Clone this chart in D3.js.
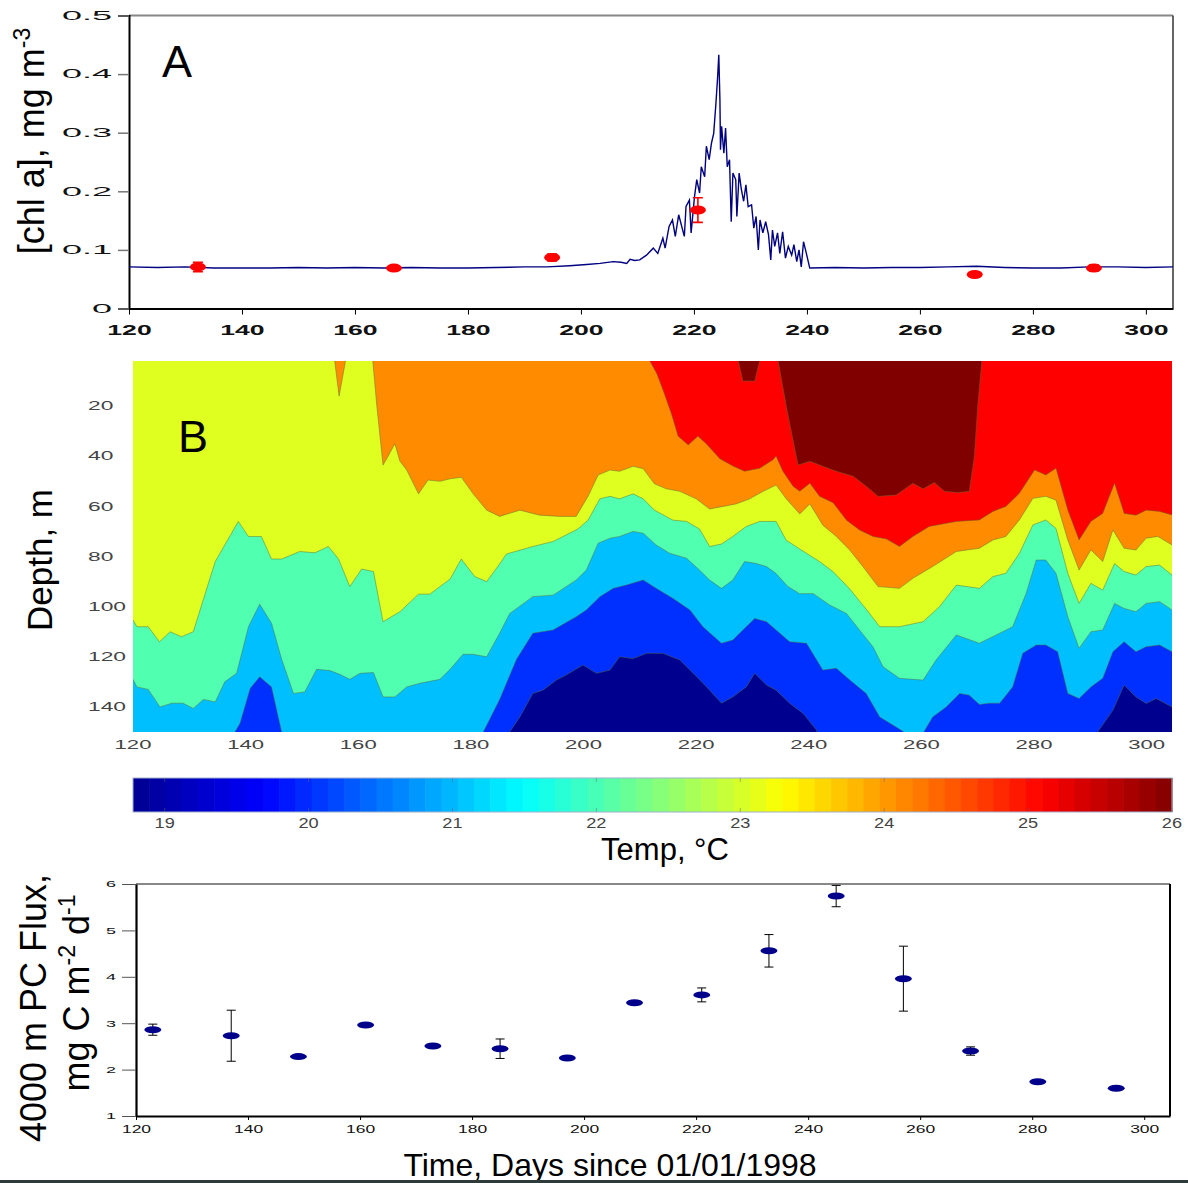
<!DOCTYPE html>
<html>
<head>
<meta charset="utf-8">
<script src="https://cdn.jsdelivr.net/npm/d3@7"></script>
<style>
  body { margin: 0; background: #fff; }
  svg { display: block; font-family: "Liberation Sans", Arial, sans-serif; }
</style>
</head>
<body>
<svg id="fig" width="1188" height="1183"></svg>
<script>
// ---- panel A: [chl a] time series (day, mg m-3) ----
const chlSeries = [
  [120,0.071],[125,0.070],[130,0.071],[135,0.069],[140,0.069],[145,0.069],[150,0.070],[155,0.069],
  [160,0.070],[165,0.069],[170,0.070],[175,0.069],[180,0.069],[185,0.070],[190,0.071],[194,0.071],
  [198,0.073],[201,0.075],[203.4,0.077],[205.7,0.080],[207.1,0.079],[208.1,0.077],[208.7,0.084],
  [209.5,0.082],[210.4,0.083],[211.6,0.091],[212.8,0.103],[213.6,0.094],[214.5,0.120],[214.9,0.103],
  [215.6,0.140],[216.2,0.151],[216.7,0.123],[217.3,0.160],[218.3,0.123],[218.6,0.174],[219.2,0.185],
  [219.5,0.129],[220.1,0.191],[220.5,0.220],[221.0,0.197],[221.3,0.242],[221.9,0.225],[222.2,0.277],
  [222.7,0.254],[223.1,0.282],[223.5,0.299],[223.9,0.351],[224.2,0.396],[224.4,0.433],[224.6,0.356],
  [224.7,0.271],[224.9,0.311],[225.3,0.265],[225.6,0.308],[225.9,0.242],[226.3,0.254],[226.6,0.148],
  [226.9,0.231],[227.4,0.220],[227.6,0.157],[228.0,0.231],[228.4,0.203],[228.8,0.183],[229.2,0.211],
  [229.6,0.174],[230.2,0.177],[230.6,0.137],[231.0,0.157],[231.4,0.100],[231.7,0.151],[232.2,0.129],
  [232.7,0.148],[233.2,0.126],[233.6,0.083],[233.9,0.134],[234.3,0.106],[234.8,0.129],[235.2,0.094],
  [235.7,0.131],[236.2,0.086],[236.7,0.106],[237.3,0.091],[237.7,0.109],[238.2,0.080],[238.6,0.100],
  [239.0,0.071],[239.4,0.114],[239.9,0.094],[240.5,0.069],[245,0.070],[250,0.069],[255,0.070],
  [260,0.070],[265,0.071],[270,0.072],[275,0.070],[280,0.069],[285,0.069],[290,0.071],[295,0.071],
  [300,0.070],[304.8,0.071]
];
const bottleDays = [132.2, 166.9, 194.9, 220.7, 269.7, 290.8];
const bottleChl  = [0.071, 0.069, 0.087, 0.168, 0.058, 0.069];
const bottleErr  = [0.008, 0.003, 0.006, 0.021, 0, 0.005];
const chlTicks = [0, 0.1, 0.2, 0.3, 0.4, 0.5];
const dayTicks = [120, 140, 160, 180, 200, 220, 240, 260, 280, 300];

// ---- panel B: isotherm depths (day, m); band colours from cold to warm ----
const iso20 = [[120,152],[186.5,152],[186.9,150],[188.7,144],[191,134.6],[192.8,133.3],[195.2,129.3],
  [196.9,127.3],[199.9,123.3],[202.3,126.6],[204.7,125.3],[206.4,120],[208.8,120.7],[211.2,118.6],
  [214.1,118.6],[217.1,121.3],[220.1,128],[222.4,133.3],[224.5,138.5],[226.5,136],[228.9,132],
  [230.4,126.6],[232.5,131.3],[234.2,133.3],[236.6,138.5],[239,142.6],[241.3,149],[241.9,152],
  [291,152],[291.3,150],[294,141.3],[296,131.3],[298.1,136],[299.9,138.6],[301.7,136.6],[304.5,140]];
const iso21 = [[120,152],[138,152],[138.1,150],[139,146.5],[140.8,132.6],[142.5,128],[144.6,132],
  [146.4,150],[146.5,152],[182,152],[182.2,150],[185.1,137],[188.1,121],[191,110.6],[194.6,109.3],
  [198.7,104],[200.5,101.3],[202.9,96],[205.3,92.7],[207.6,91.4],[210.6,89.4],[212.9,92.7],
  [215.9,96.7],[218.9,101.3],[221.2,108],[224.5,114.6],[226.5,113.3],[228.3,109.3],[230.4,104.7],
  [232.5,106],[234.2,109.3],[236.6,114],[239.6,114.6],[242.5,125.3],[244.9,124.6],[247.3,129.3],
  [250.2,134.6],[252.6,144],[255.5,148],[258.3,152],[259.9,152],[262,144],[264.4,140],[266.8,134.6],
  [268.5,135.3],[270.3,139],[272.1,138.5],[273.9,138.5],[276.2,132],[278,118.6],[280.4,115.3],
  [282.1,115.3],[284.2,118],[286,134.6],[288,136.6],[290.1,132],[292.2,128.6],[294,118],[296,114],
  [298.1,118],[299.9,116],[302.3,115.3],[304.5,118]];
const iso22 = [[120,129],[120.7,132],[122.7,133],[124.8,140],[126.9,138.5],[128.9,138.5],[130.7,140.6],
  [132.5,137],[134.6,138],[136.3,130],[138.4,126.6],[140.5,108],[142.5,99],[144.6,106.6],[146.4,121],
  [148.5,134.6],[150.5,134],[152.6,125],[155,125.5],[156.7,127],[158.5,129],[160.3,126.6],[162.7,126.3],
  [164.4,136],[166.5,136],[168.6,132],[170.9,130.6],[174.5,129],[176.3,125],[178.6,119],[180.4,119],
  [182.8,120],[185.1,110.6],[186.9,102.7],[191,96],[194.6,95.4],[198.7,89.4],[200.5,85.4],[202.6,74.7],
  [204.7,72.7],[206.4,72],[208.8,70],[210.6,70.7],[212.9,75.4],[215.3,78.7],[218.3,80.7],[220.6,85.4],
  [222.4,89.4],[224.5,92.7],[226.5,89.4],[228.6,82],[230.7,82.8],[232.5,84],[234.2,86.8],[236.3,92],
  [238.4,94.8],[240.8,94.8],[243.7,99.3],[246.7,102.7],[249,109.3],[251.4,116],[253.2,124],[256.1,128.6],
  [260.3,129.3],[262.6,121.3],[266.2,111.3],[270.3,114.6],[273.9,110.6],[276.2,108],[278.6,94.7],
  [280.4,81.4],[282.1,81.4],[283.9,86.7],[286,104],[288,116.6],[290.1,110],[292.2,109.3],[294.3,98.7],
  [296,100.7],[298.1,102],[299.9,98.7],[302.3,98],[304.5,101.3]];
const iso23 = [[120,105.3],[120.7,108],[122.7,108],[124.7,114],[126.6,110],[128.6,112],[130.7,110],
  [134.6,82],[138.7,66],[140.5,72],[142.8,72],[144.6,81],[146.4,81],[149.6,78],[152.3,78.5],[154.7,76],
  [156.5,81],[158.5,92],[160.6,85],[162.7,86],[164.4,106],[167.4,102],[170.7,95],[172.7,95],[176.3,89],
  [178.3,81],[180.7,88],[182.8,90],[185.1,83],[186.3,79],[191,76],[194.6,74],[199,69],[200.8,65.5],
  [202.9,57],[204.7,56],[206.4,57],[208.8,55],[210.6,57],[212.6,61.5],[215.9,65.5],[218.3,66],[220.6,69],
  [222.4,76],[224.5,75],[226.5,72],[228.9,68],[231.3,66],[234.2,66],[236,73.5],[238.4,77],[241.9,82],
  [244.3,86],[247.3,93],[250.2,101],[252.6,108],[256.1,108],[260.3,106],[263.2,100],[266.2,91.4],
  [270.3,92.7],[272.7,88],[275,86.7],[277.4,78.7],[279.8,67.4],[282.1,65.4],[283.9,68.8],[286,86.7],
  [288,98.7],[290.1,90.7],[292.2,93.4],[294.3,82.8],[296,86],[298.1,87.4],[299.9,84],[302.3,83.4],
  [304.5,87.4]];
const iso24 = [[120,0],[155.7,0],[156.6,16],[157.9,0],[162.5,0],[163.3,20],[164.4,43.5],[165.3,40],
  [166.5,35],[167.4,42],[168.6,45.5],[170.7,55],[172.4,49.5],[174.5,50],[176.3,49],[178.3,48.4],
  [180.4,55],[182.8,61.5],[185.1,64],[188.7,61.5],[192.2,63.5],[195.8,64],[198.7,64],[200.8,56],
  [202.6,47.5],[204.7,45.5],[206.4,46],[208.8,44],[210.6,45],[212.6,51],[214.7,53],[217.1,54],[220,57],
  [222.4,61],[224.8,60],[227.1,59],[229.5,57],[231.9,54],[234.2,51.5],[236,57],[238.4,63],[240.2,59],
  [242.5,67.5],[244.9,72],[247.3,77.5],[249.6,84],[252.3,92],[256.1,92.7],[258.5,88.7],[262,84],
  [266.2,78],[270.3,76.7],[272.7,73.4],[275,72],[277.4,65.4],[279.8,56.8],[282.1,56],[283.9,57.5],
  [286,73.4],[288,85.4],[290.1,77.4],[292.2,82],[294,69.4],[296,76.7],[298.1,77.4],[299.9,72.7],
  [302,72],[304.5,75.4]];
const iso25 = [[120,0],[211.3,0],[213,7],[214.1,13.5],[215.6,23],[216.8,32],[218.6,35.5],[220.3,32],
  [221.8,35],[224.2,41],[226.6,44],[228.6,46],[231.3,44.8],[233.6,41.5],[234.2,40],[235.4,46],
  [237.2,52],[238.4,54],[240.2,50.8],[241.9,56],[244.3,58.5],[246.7,65.5],[249,69.4],[251.4,72],
  [253.8,73],[256.1,76],[258.5,72],[261.4,68],[266.2,66],[270.3,65.4],[272.7,62],[275,60],[277.4,54.8],
  [280.1,45.5],[282.1,47.5],[283.9,44.8],[286,61.5],[288,73.4],[290.1,66],[292.2,62.8],[294.3,50.8],
  [296,62.8],[298.1,63.5],[299.9,61.5],[302.3,62],[304.5,63.4]];
const iso26 = [[120,0],[227.3,0],[228.3,10],[230.4,10],[231.5,0],[234.4,0],[236,20],[237.2,33.5],
  [238.1,43.5],[240.2,42],[242.5,44],[244.9,46],[247.9,48],[250.2,52],[252.3,56],[255.5,55.5],
  [258.5,50.8],[260.3,53],[262.3,50.5],[264.1,54],[266.5,54.5],[268.5,54],[269.4,40],[270,20],
  [270.8,0],[304.5,0]];
const bandColors = ['#00008f', '#0030ff', '#00bfff', '#50ffb0', '#dfff20', '#ff8c00', '#ff0000', '#800000'];
const depthTicks = [20, 40, 60, 80, 100, 120, 140];

// ---- colour bar ----
const tempTicks = [19, 20, 21, 22, 23, 24, 25, 26];
const jetStops = [0, 0.125, 0.375, 0.625, 0.875, 1];
const jetColors = ['#00008f', '#0000ff', '#00ffff', '#ffff00', '#ff0000', '#800000'];

// ---- panel C: 4000 m particulate carbon flux ----
const fluxDays = [123, 137, 149, 161, 173, 185, 197, 209, 221, 233, 245, 257, 269, 281, 295];
const flux     = [2.86, 2.73, 2.28, 2.96, 2.51, 2.45, 2.25, 3.44, 3.61, 4.56, 5.74, 3.96, 2.40, 1.74, 1.60];
const fluxErr  = [0.12, 0.55, 0, 0, 0, 0.21, 0, 0.04, 0.15, 0.35, 0.23, 0.70, 0.09, 0, 0];
const fluxTicks = [1, 2, 3, 4, 5, 6];

const svg = d3.select('#fig');

// horizontally stretched tick labels, like the original figure
function widen(texts, sx) {
  texts.each(function () {
    const t = d3.select(this);
    const x = +t.attr('x') || 0;
    t.attr('x', x / sx).attr('transform', `scale(${sx},1)`);
  });
}
function cleanAxis(g) {
  g.attr('font-size', null).attr('font-family', null);
}

// =============== panel A ===============
const xA = d3.scaleLinear().domain([120, 304.8]).range([129, 1173]);
const yA = d3.scaleLinear().domain([0, 0.5]).range([308.5, 15.5]);
const gA = svg.append('g');

gA.append('line')
  .attr('x1', xA(120)).attr('x2', 1173).attr('y1', yA(0.5)).attr('y2', yA(0.5))
  .attr('stroke', '#888').attr('stroke-width', 2);
gA.append('line')
  .attr('x1', 1173).attr('x2', 1173).attr('y1', yA(0.5)).attr('y2', yA(0))
  .attr('stroke', '#333').attr('stroke-width', 1.5);

const yAxisA = gA.append('g')
  .attr('transform', `translate(${xA(120)},0)`)
  .call(d3.axisLeft(yA).tickValues(chlTicks).tickFormat(d => d === 0 ? '0' : d3.format('.1f')(d))
    .tickSize(11).tickPadding(6))
  .call(cleanAxis);
yAxisA.select('.domain').attr('stroke', '#000').attr('stroke-width', 2);
yAxisA.selectAll('.tick line').attr('stroke', '#777').attr('stroke-width', 1.5);
yAxisA.selectAll('text').attr('font-size', 12).attr('fill', '#111').call(widen, 3.0);

const xAxisA = gA.append('g')
  .attr('transform', `translate(0,${yA(0)})`)
  .call(d3.axisBottom(xA).tickValues(dayTicks).tickSize(6).tickPadding(10.5).tickSizeOuter(0))
  .call(cleanAxis);
xAxisA.select('.domain').attr('stroke', '#000').attr('stroke-width', 2);
xAxisA.selectAll('text').attr('font-size', 14).attr('font-weight', 'bold').attr('fill', '#111').call(widen, 1.9);

gA.append('path')
  .datum(chlSeries)
  .attr('fill', 'none')
  .attr('stroke', '#000080')
  .attr('stroke-width', 1.4)
  .attr('d', d3.line().x(d => xA(d[0])).y(d => yA(d[1])));

const bottles = bottleDays.map((d, i) => ({ day: d, v: bottleChl[i], e: bottleErr[i] }));
const bot = gA.selectAll('.bottle').data(bottles).join('g').attr('class', 'bottle');
bot.filter(d => d.e > 0).append('path')
  .attr('stroke', '#ff0000').attr('stroke-width', 1.6).attr('fill', 'none')
  .attr('d', d => {
    const x = xA(d.day), y0 = yA(d.v - d.e), y1 = yA(d.v + d.e);
    return `M${x - 5},${y0}H${x + 5}M${x},${y0}V${y1}M${x - 5},${y1}H${x + 5}`;
  });
bot.append('ellipse')
  .attr('cx', d => xA(d.day)).attr('cy', d => yA(d.v))
  .attr('rx', 8).attr('ry', 4.5).attr('fill', '#ff0000');

gA.append('text').attr('x', 162).attr('y', 77).attr('font-size', 45).text('A');

gA.append('text')
  .attr('transform', 'translate(44,141) rotate(-90)')
  .attr('text-anchor', 'middle').attr('font-size', 36)
  .call(t => {
    t.append('tspan').text('[chl a], mg m');
    t.append('tspan').attr('dy', -14).attr('font-size', 23).text('-3');
  });

// =============== panel B ===============
const xB = d3.scaleLinear().domain([120, 304.5]).range([133, 1172]);
const yB = d3.scaleLinear().domain([2, 150]).range([361, 732]);
const gB = svg.append('g');

svg.append('clipPath').attr('id', 'clipB')
  .append('rect').attr('x', 133).attr('y', 361).attr('width', 1172 - 133).attr('height', 732 - 361);

const fieldB = gB.append('g').attr('clip-path', 'url(#clipB)');
fieldB.append('rect')
  .attr('x', 133).attr('y', 361).attr('width', 1172 - 133).attr('height', 732 - 361)
  .attr('fill', bandColors[0]);

const isotherms = [iso20, iso21, iso22, iso23, iso24, iso25, iso26];
const areaB = d3.area().x(d => xB(d[0])).y0(yB(-5)).y1(d => yB(d[1]));
const lineB = d3.line().x(d => xB(d[0])).y(d => yB(d[1]));

fieldB.selectAll('.band').data(isotherms).join('path')
  .attr('class', 'band')
  .attr('fill', (d, i) => bandColors[i + 1])
  .attr('d', areaB);
fieldB.selectAll('.iso').data(isotherms).join('path')
  .attr('class', 'iso')
  .attr('fill', 'none').attr('stroke', '#5d6b35').attr('stroke-width', 0.6).attr('stroke-opacity', 0.8)
  .attr('d', lineB);

gB.selectAll('.depthLabel').data(depthTicks).join('text')
  .attr('class', 'depthLabel')
  .attr('x', 88).attr('y', d => yB(d)).attr('dy', '0.35em')
  .attr('font-size', 12).attr('fill', '#444')
  .text(d => d)
  .call(widen, 1.9);

gB.selectAll('.dayLabel').data(dayTicks).join('text')
  .attr('class', 'dayLabel')
  .attr('x', d => xB(d)).attr('y', 749)
  .attr('text-anchor', 'middle').attr('font-size', 13).attr('fill', '#444')
  .text(d => d)
  .call(widen, 1.7);

gB.append('text').attr('x', 178).attr('y', 452).attr('font-size', 45).text('B');

gB.append('text')
  .attr('transform', 'translate(52,560) rotate(-90)')
  .attr('text-anchor', 'middle').attr('font-size', 35)
  .text('Depth, m');

// =============== colour bar ===============
const xC = d3.scaleLinear().domain([18.78, 26]).range([133, 1172]);
const jet = d3.scaleLinear().domain(jetStops).range(jetColors);
const nSteps = 64;
const steps = d3.range(nSteps);
const gBar = svg.append('g');
gBar.selectAll('rect.step').data(steps).join('rect')
  .attr('class', 'step')
  .attr('x', i => 133 + i * (1172 - 133) / nSteps)
  .attr('width', (1172 - 133) / nSteps + 0.6)
  .attr('y', 778).attr('height', 34)
  .attr('fill', i => jet((i + 0.5) / nSteps));
gBar.append('rect')
  .attr('x', 133).attr('y', 778).attr('width', 1172 - 133).attr('height', 34)
  .attr('fill', 'none').attr('stroke', '#9fb0cc').attr('stroke-width', 1);
gBar.selectAll('.tk').data(tempTicks).join('path')
  .attr('class', 'tk')
  .attr('stroke', '#667').attr('stroke-width', 0.8).attr('stroke-opacity', 0.6)
  .attr('d', d => `M${xC(d)},778v4M${xC(d)},812v-4`);
gBar.selectAll('.tempLabel').data(tempTicks).join('text')
  .attr('class', 'tempLabel')
  .attr('x', d => xC(d)).attr('y', 828)
  .attr('text-anchor', 'middle').attr('font-size', 14).attr('fill', '#444')
  .text(d => d)
  .call(widen, 1.3);
gBar.append('text')
  .attr('x', 665).attr('y', 860).attr('text-anchor', 'middle').attr('font-size', 31)
  .text('Temp, °C');

// =============== panel C ===============
const xD = d3.scaleLinear().domain([120, 304.6]).range([136, 1170]);
const yD = d3.scaleLinear().domain([1, 6]).range([1116, 884]);
const gC = svg.append('g');

gC.append('line')
  .attr('x1', xD(120)).attr('x2', 1170).attr('y1', yD(6)).attr('y2', yD(6))
  .attr('stroke', '#888').attr('stroke-width', 2);
gC.append('line')
  .attr('x1', 1170).attr('x2', 1170).attr('y1', yD(6)).attr('y2', yD(1))
  .attr('stroke', '#000').attr('stroke-width', 2);

const yAxisC = gC.append('g')
  .attr('transform', `translate(${xD(120)},0)`)
  .call(d3.axisLeft(yD).tickValues(fluxTicks).tickFormat(d3.format('d'))
    .tickSize(14).tickPadding(6).tickSizeOuter(0))
  .call(cleanAxis);
yAxisC.select('.domain').attr('stroke', '#000').attr('stroke-width', 2.2);
yAxisC.selectAll('.tick line').attr('stroke', '#555');
yAxisC.selectAll('text').attr('font-size', 9).attr('fill', '#111').call(widen, 2.0);

const xAxisC = gC.append('g')
  .attr('transform', `translate(0,${yD(1)})`)
  .call(d3.axisBottom(xD).tickValues(dayTicks).tickSize(4).tickPadding(6).tickSizeOuter(0))
  .call(cleanAxis);
xAxisC.select('.domain').attr('stroke', '#000').attr('stroke-width', 2);
xAxisC.selectAll('text').attr('font-size', 10).attr('fill', '#111').call(widen, 1.75);

const traps = fluxDays.map((d, i) => ({ day: d, v: flux[i], e: fluxErr[i] }));
const trap = gC.selectAll('.trap').data(traps).join('g').attr('class', 'trap');
trap.filter(d => d.e > 0).append('path')
  .attr('stroke', '#000').attr('stroke-width', 1).attr('fill', 'none')
  .attr('d', d => {
    const x = xD(d.day), y0 = yD(d.v - d.e), y1 = yD(d.v + d.e);
    return `M${x - 4.5},${y0}H${x + 4.5}M${x},${y0}V${y1}M${x - 4.5},${y1}H${x + 4.5}`;
  });
trap.append('ellipse')
  .attr('cx', d => xD(d.day)).attr('cy', d => yD(d.v))
  .attr('rx', 8.5).attr('ry', 3.5).attr('fill', '#00008b');

gC.append('text')
  .attr('transform', 'translate(46,1008) rotate(-90)')
  .attr('text-anchor', 'middle').attr('font-size', 36)
  .text('4000 m PC Flux,');
gC.append('text')
  .attr('transform', 'translate(89,993) rotate(-90)')
  .attr('text-anchor', 'middle').attr('font-size', 36)
  .call(t => {
    t.append('tspan').text('mg C m');
    t.append('tspan').attr('dy', -14).attr('font-size', 23).text('-2');
    t.append('tspan').attr('dy', 14).text(' d');
    t.append('tspan').attr('dy', -14).attr('font-size', 23).text('-1');
  });

gC.append('text')
  .attr('x', 610).attr('y', 1176).attr('text-anchor', 'middle').attr('font-size', 32)
  .text('Time, Days since 01/01/1998');

svg.append('rect').attr('x', 0).attr('y', 1180).attr('width', 1188).attr('height', 3).attr('fill', '#2f3b3b');
</script>
</body>
</html>
